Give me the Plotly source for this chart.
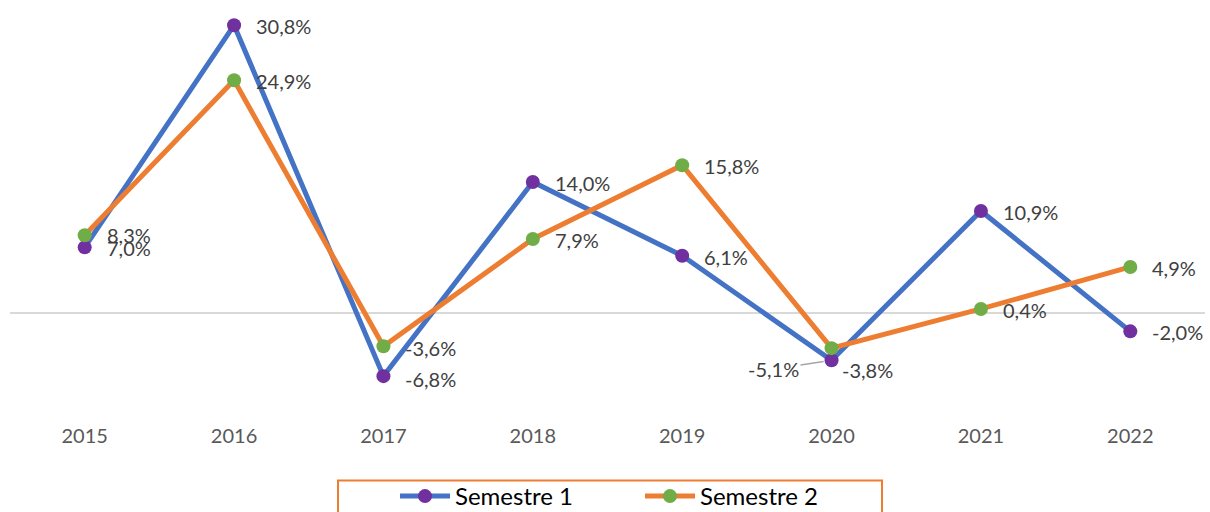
import plotly.graph_objects as go

years = ["2015", "2016", "2017", "2018", "2019", "2020", "2021", "2022"]
sem1 = [7.0, 30.8, -6.8, 14.0, 6.1, -5.1, 10.9, -2.0]
sem2 = [8.3, 24.9, -3.6, 7.9, 15.8, -3.8, 0.4, 4.9]

FONT = "Lato, 'Open Sans', sans-serif"

def fmt(v):
    return f"{v:.1f}%".replace(".", ",")

fig = go.Figure()
fig.add_trace(go.Scatter(
    x=years, y=sem1, mode="lines+markers", name="Semestre 1",
    line=dict(color="#4472C4", width=5),
    marker=dict(color="#7030A0", size=14),
))
fig.add_trace(go.Scatter(
    x=years, y=sem2, mode="lines+markers", name="Semestre 2",
    line=dict(color="#ED7D31", width=5),
    marker=dict(color="#70AD47", size=14),
))

# label offsets (pixels) for each point
s1_shift = [(0, -1), (0, -1), (0, -3), (0, -1), (0, -1), None, (0, -1), (0, -1)]
s2_shift = [(0, 0), (0, -1), (0, -2), (0, -1), (0, -1), (-12, -22), (0, -1), (0, -1)]

annotations = []
for series, shifts in ((sem1, s1_shift), (sem2, s2_shift)):
    for i, v in enumerate(series):
        if shifts[i] is None:
            annotations.append(dict(
                x=i, y=v, text=fmt(v), showarrow=True, arrowhead=0,
                arrowcolor="#A6A6A6", arrowwidth=1.5, ax=-58, ay=9,
                standoff=8, font=dict(family=FONT, size=20, color="#404040"),
            ))
        else:
            dx, dy = shifts[i]
            annotations.append(dict(
                x=i, y=v, text=fmt(v), showarrow=False, xanchor="left",
                xshift=20 + dx, yshift=dy,
                font=dict(family=FONT, size=20, color="#404040"),
            ))

fig.update_layout(
    width=1210, height=512,
    paper_bgcolor="white", plot_bgcolor="white",
    margin=dict(l=10, r=5, t=0, b=105.5, autoexpand=False),
    font=dict(family=FONT, color="#595959"),
    annotations=annotations,
    shapes=[dict(
        type="rect", xref="paper", yref="paper",
        x0=(338 - 10) / 1195, x1=(882 - 10) / 1195,
        y0=1 - 520 / 406.5, y1=1 - 481 / 406.5,
        line=dict(color="#ED7D31", width=2), fillcolor="rgba(0,0,0,0)",
        layer="above",
    )],
    showlegend=True,
    legend=dict(
        orientation="h", xref="container", yref="container",
        x=395 / 1210, xanchor="left", y=1 - 474 / 512, yanchor="top",
        bgcolor="rgba(0,0,0,0)", borderwidth=0,
        font=dict(family=FONT, size=24, color="#000000"),
        entrywidth=180, itemwidth=50,
    ),
    xaxis=dict(
        type="category", range=[-0.5, 7.5], showgrid=False, showline=False,
        ticks="", ticklabelstandoff=16,
        tickfont=dict(family=FONT, size=20, color="#595959"),
        fixedrange=True,
    ),
    yaxis=dict(
        range=[-10, 33.5], showgrid=False, showticklabels=False,
        zeroline=True, zerolinecolor="#D9D9D9", zerolinewidth=1.5,
        fixedrange=True,
    ),
)

fig.write_html(
    "out.html",
    config={"displayModeBar": False},
    post_script="document.body.style.margin='0';document.body.style.overflow='hidden';",
)
